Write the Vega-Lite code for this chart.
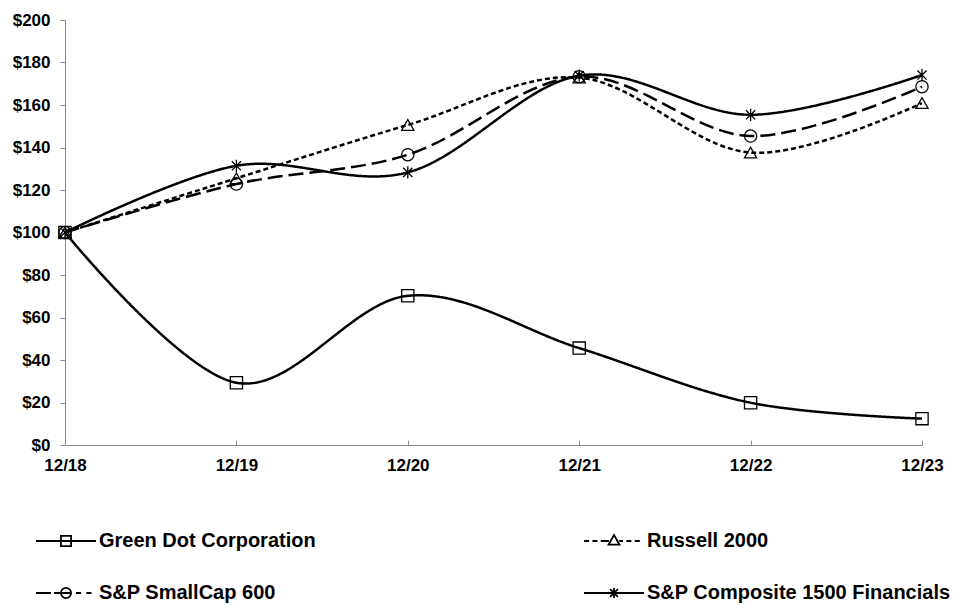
{
  "$schema": "https://vega.github.io/schema/vega-lite/v6.json",
  "autosize": "none",
  "width": 857,
  "height": 425,
  "padding": {"left": 65, "top": 20, "right": 32, "bottom": 160},
  "background": "white",
  "config": {
    "view": {"stroke": null},
    "font": "Liberation Sans",
    "axis": {
      "labelFont": "Liberation Sans",
      "labelFontWeight": "bold",
      "labelFontSize": 17,
      "labelColor": "black",
      "domainColor": "#8c8c8c",
      "tickColor": "#8c8c8c",
      "grid": false,
      "title": null
    }
  },
  "data": {
    "values": [
      {"date": "12/18", "series": "Green Dot Corporation", "value": 100},
      {"date": "12/19", "series": "Green Dot Corporation", "value": 29.3},
      {"date": "12/20", "series": "Green Dot Corporation", "value": 70.2},
      {"date": "12/21", "series": "Green Dot Corporation", "value": 45.6},
      {"date": "12/22", "series": "Green Dot Corporation", "value": 19.9},
      {"date": "12/23", "series": "Green Dot Corporation", "value": 12.4},
      {"date": "12/18", "series": "Russell 2000", "value": 100},
      {"date": "12/19", "series": "Russell 2000", "value": 125.5},
      {"date": "12/20", "series": "Russell 2000", "value": 150.6},
      {"date": "12/21", "series": "Russell 2000", "value": 172.9},
      {"date": "12/22", "series": "Russell 2000", "value": 137.6},
      {"date": "12/23", "series": "Russell 2000", "value": 160.9},
      {"date": "12/18", "series": "S&P SmallCap 600", "value": 100},
      {"date": "12/19", "series": "S&P SmallCap 600", "value": 122.8},
      {"date": "12/20", "series": "S&P SmallCap 600", "value": 136.6},
      {"date": "12/21", "series": "S&P SmallCap 600", "value": 173.3},
      {"date": "12/22", "series": "S&P SmallCap 600", "value": 145.4},
      {"date": "12/23", "series": "S&P SmallCap 600", "value": 168.6},
      {"date": "12/18", "series": "S&P Composite 1500 Financials", "value": 100},
      {"date": "12/19", "series": "S&P Composite 1500 Financials", "value": 131.4},
      {"date": "12/20", "series": "S&P Composite 1500 Financials", "value": 128.3},
      {"date": "12/21", "series": "S&P Composite 1500 Financials", "value": 173.8},
      {"date": "12/22", "series": "S&P Composite 1500 Financials", "value": 155.4},
      {"date": "12/23", "series": "S&P Composite 1500 Financials", "value": 174.1}
    ]
  },
  "encoding": {
    "x": {
      "field": "date",
      "type": "ordinal",
      "sort": null,
      "scale": {"type": "point", "padding": 0},
      "axis": {"labelAngle": 0, "tickSize": -5, "labelPadding": 17}
    },
    "y": {
      "field": "value",
      "type": "quantitative",
      "scale": {"domain": [0, 200], "nice": false, "zero": true},
      "axis": {"values": [0, 20, 40, 60, 80, 100, 120, 140, 160, 180, 200], "format": "$,.0f", "tickSize": 5, "labelPadding": 10}
    }
  },
  "layer": [
    {
      "mark": {"type": "line", "interpolate": "cardinal", "color": "black", "strokeWidth": 2.5},
      "encoding": {
        "strokeDash": {
          "field": "series",
          "type": "nominal",
          "scale": {
            "domain": ["Green Dot Corporation", "Russell 2000", "S&P SmallCap 600", "S&P Composite 1500 Financials"],
            "range": [[1, 0], [5, 3], [15, 6], [1, 0]]
          },
          "legend": null
        }
      }
    },
    {
      "mark": {"type": "point", "filled": false, "stroke": "black", "strokeWidth": 1.3, "size": 150, "opacity": 1},
      "encoding": {
        "shape": {
          "field": "series",
          "type": "nominal",
          "scale": {
            "domain": ["Green Dot Corporation", "Russell 2000", "S&P SmallCap 600", "S&P Composite 1500 Financials"],
            "range": ["square", "triangle-up", "circle", "M0,-1V1M-0.75,-0.75L0.75,0.75M-0.75,0.75L0.75,-0.75"]
          },
          "legend": null
        }
      }
    },
    {
      "mark": {"type": "point", "filled": false, "stroke": "black", "opacity": 0, "size": 3600},
      "encoding": {
        "shape": {
          "field": "series",
          "type": "nominal",
          "scale": {
            "domain": ["Green Dot Corporation", "S&P SmallCap 600", "Russell 2000", "S&P Composite 1500 Financials"],
            "range": [
              "M-1,0H1M-0.17,-0.17H0.17V0.17H-0.17Z",
              "M-1,0H-0.5M-0.4,0H0.17M0.33,0H0.5M0.68,0H0.85M0.17,0A0.17,0.17 0 1 1 -0.17,0A0.17,0.17 0 1 1 0.17,0",
              "M-1,0H-0.83M-0.72,0H-0.55M-0.44,0H-0.17M0.17,0H0.3M0.41,0H0.58M0.69,0H0.86M0,-0.2L0.18,0.12H-0.18Z",
              "M-1,0H1M0,-0.17V0.17M-0.13,-0.13L0.13,0.13M-0.13,0.13L0.13,-0.13"
            ]
          },
          "legend": {
            "orient": "none",
            "legendX": -30,
            "legendY": 490,
            "columns": 2,
            "title": null,
            "labelFont": "Liberation Sans",
            "labelFontWeight": "bold",
            "labelFontSize": 20,
            "labelColor": "black",
            "labelOffset": 2,
            "labelLimit": 400,
            "columnPadding": 264,
            "rowPadding": 11,
            "symbolOpacity": 1,
            "symbolStrokeColor": "black",
            "symbolFillColor": "transparent",
            "symbolStrokeWidth": 1.8,
            "symbolSize": 3600
          }
        }
      }
    }
  ],
  "resolve": {"scale": {"shape": "independent"}, "legend": {"shape": "independent"}}
}
